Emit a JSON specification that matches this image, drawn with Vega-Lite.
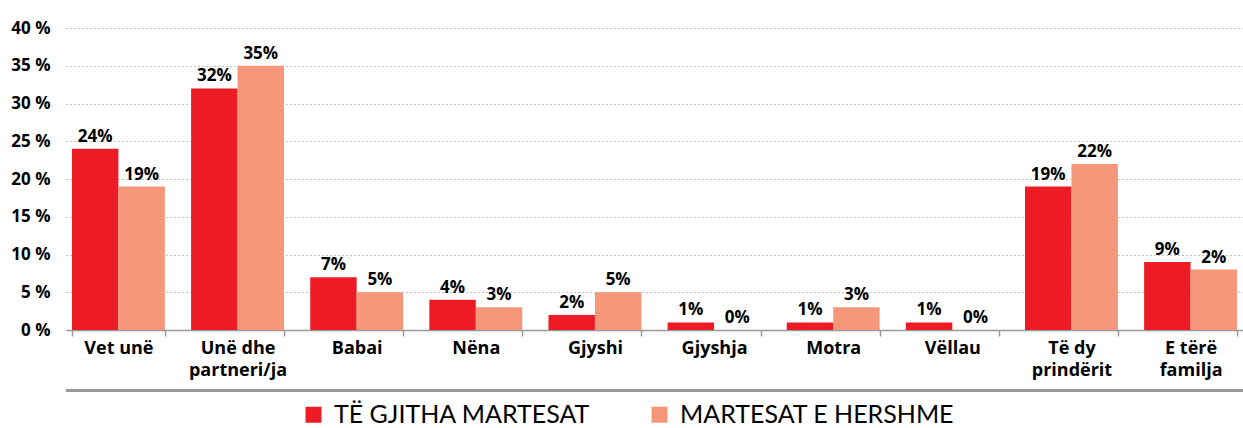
{
  "$schema": "https://vega.github.io/schema/vega-lite/v6.json",
  "width": 1177,
  "height": 302,
  "autosize": "none",
  "padding": {"left": 66, "top": 28, "right": 0, "bottom": 98},
  "config": {"view": {"stroke": null}, "font": "Open Sans"},
  "data": {
    "values": [
      {"cat": "Vet unë", "series": "TË GJITHA MARTESAT", "value": 24, "label": "24%"},
      {"cat": "Vet unë", "series": "MARTESAT E HERSHME", "value": 19, "label": "19%"},
      {"cat": "Unë dhe partneri/ja", "series": "TË GJITHA MARTESAT", "value": 32, "label": "32%"},
      {"cat": "Unë dhe partneri/ja", "series": "MARTESAT E HERSHME", "value": 35, "label": "35%"},
      {"cat": "Babai", "series": "TË GJITHA MARTESAT", "value": 7, "label": "7%"},
      {"cat": "Babai", "series": "MARTESAT E HERSHME", "value": 5, "label": "5%"},
      {"cat": "Nëna", "series": "TË GJITHA MARTESAT", "value": 4, "label": "4%"},
      {"cat": "Nëna", "series": "MARTESAT E HERSHME", "value": 3, "label": "3%"},
      {"cat": "Gjyshi", "series": "TË GJITHA MARTESAT", "value": 2, "label": "2%"},
      {"cat": "Gjyshi", "series": "MARTESAT E HERSHME", "value": 5, "label": "5%"},
      {"cat": "Gjyshja", "series": "TË GJITHA MARTESAT", "value": 1, "label": "1%"},
      {"cat": "Gjyshja", "series": "MARTESAT E HERSHME", "value": 0, "label": "0%"},
      {"cat": "Motra", "series": "TË GJITHA MARTESAT", "value": 1, "label": "1%"},
      {"cat": "Motra", "series": "MARTESAT E HERSHME", "value": 3, "label": "3%"},
      {"cat": "Vëllau", "series": "TË GJITHA MARTESAT", "value": 1, "label": "1%"},
      {"cat": "Vëllau", "series": "MARTESAT E HERSHME", "value": 0, "label": "0%"},
      {"cat": "Të dy prindërit", "series": "TË GJITHA MARTESAT", "value": 19, "label": "19%"},
      {"cat": "Të dy prindërit", "series": "MARTESAT E HERSHME", "value": 22, "label": "22%"},
      {"cat": "E tërë familja", "series": "TË GJITHA MARTESAT", "value": 9, "label": "9%"},
      {"cat": "E tërë familja", "series": "MARTESAT E HERSHME", "value": 8, "label": "2%"}
    ]
  },
  "encoding": {
    "x": {
      "field": "cat",
      "type": "nominal",
      "sort": null,
      "title": null,
      "scale": {"paddingInner": 0.22, "paddingOuter": 0.05},
      "axis": {
        "labelAngle": 0,
        "labelFont": "Open Sans",
        "labelFontWeight": "bold",
        "labelFontSize": 18,
        "labelColor": "#000",
        "labelPadding": 3,
        "labelLineHeight": 22,
        "domainColor": "#999",
        "domainWidth": 1.5,
        "tickColor": "#999",
        "tickWidth": 1.5,
        "tickSize": 6,
        "tickBand": "extent",
        "labelExpr": "datum.value == 'Unë dhe partneri/ja' ? ['Unë dhe', 'partneri/ja'] : datum.value == 'Të dy prindërit' ? ['Të dy', 'prindërit'] : datum.value == 'E tërë familja' ? ['E tërë', 'familja'] : datum.value"
      }
    },
    "y": {
      "field": "value",
      "type": "quantitative",
      "title": null,
      "scale": {"domain": [0, 40], "nice": false},
      "axis": {
        "values": [0, 5, 10, 15, 20, 25, 30, 35, 40],
        "labelExpr": "datum.value + ' %'",
        "labelFont": "Open Sans",
        "labelFontWeight": "bold",
        "labelFontSize": 17,
        "labelColor": "#000",
        "labelPadding": 16,
        "labelOverlap": false,
        "domain": false,
        "ticks": false,
        "grid": true,
        "gridColor": "#888",
        "gridDash": [1, 3],
        "gridWidth": 1
      }
    },
    "xOffset": {"field": "series", "sort": null}
  },
  "layer": [
    {
      "mark": {"type": "bar"},
      "encoding": {
        "color": {
          "field": "series",
          "type": "nominal",
          "sort": null,
          "scale": {"domain": ["TË GJITHA MARTESAT", "MARTESAT E HERSHME"], "range": ["#ED1C24", "#F7977A"]},
          "legend": {
            "orient": "none",
            "legendX": 235,
            "legendY": 374,
            "direction": "horizontal",
            "title": null,
            "symbolType": "square",
            "symbolSize": 256,
            "symbolStrokeWidth": 0,
            "labelFont": "Lato",
            "labelFontSize": 25,
            "labelColor": "#000",
            "labelLimit": 500,
            "labelOffset": 8,
            "columnPadding": 56,
            "padding": 0
          }
        }
      }
    },
    {
      "mark": {"type": "text", "baseline": "alphabetic", "dy": -7, "font": "Open Sans", "fontWeight": "bold", "fontSize": 17, "color": "#000"},
      "encoding": {"text": {"field": "label"}}
    },
    {
      "mark": {"type": "rule", "color": "#999", "strokeWidth": 1.5},
      "encoding": {"y": {"datum": -8}, "x": null, "xOffset": null}
    }
  ]
}
